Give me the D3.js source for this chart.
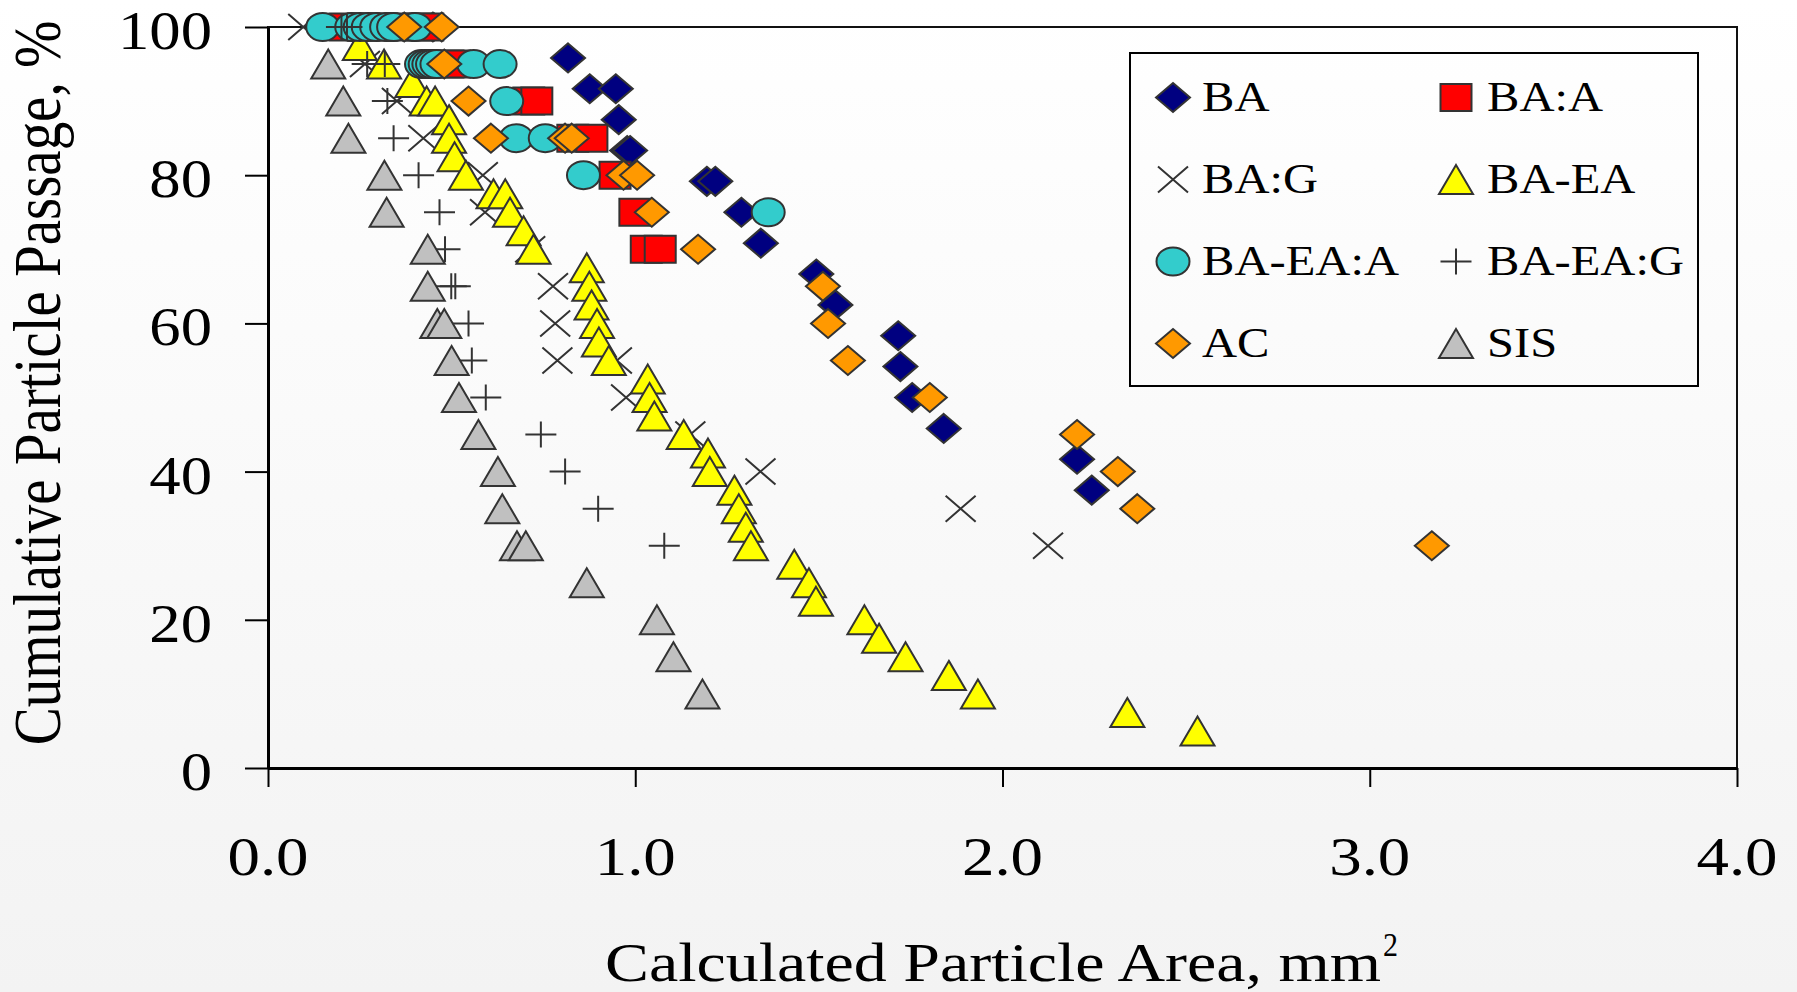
<!DOCTYPE html>
<html><head><meta charset="utf-8">
<script src="https://cdn.jsdelivr.net/npm/d3@7"></script>
<style>body{margin:0;background:#fff}svg{display:block}</style>
</head><body>
<svg id="c" width="1797" height="992"></svg>
<script>
// ---------- data ----------
const xTicks = [0, 1, 2, 3, 4];
const xTickLabels = ["0.0", "1.0", "2.0", "3.0", "4.0"];
const yTicks = [0, 20, 40, 60, 80, 100];
const xTitle = "Calculated Particle Area, mm";
const yTitle = "Cumulative Particle Passage, %";

const BA = [[0.449,100],[0.817,95.83],[0.876,91.67],[0.947,91.67],[0.955,87.5],[0.978,83.33],[0.986,83.33],[1.195,79.17],[1.218,79.17],[1.289,75],[1.342,70.83],[1.493,66.67],[1.545,62.5],[1.716,58.33],[1.722,54.17],[1.754,50],[1.840,45.83],[2.203,41.67],[2.243,37.5]];
const BA_A = [[0.21,100],[0.26,100],[0.31,100],[0.36,100],[0.41,100],[0.435,100],[0.49,95],[0.508,95],[0.71,90],[0.732,90],[0.83,85],[0.882,85],[0.945,80],[0.999,75],[1.03,70],[1.068,70]];
const BA_G = [[0.096,100],[0.264,95],[0.351,90],[0.423,85],[0.585,80],[0.591,75],[0.714,70],[0.776,65],[0.782,60],[0.788,55],[0.95,55],[0.975,50],[1.15,45],[1.341,40],[1.886,35],[2.124,30]];
const BA_EA = [[0.25,97.5],[0.316,95],[0.393,92.5],[0.432,90],[0.455,90],[0.493,87.5],[0.493,85],[0.508,82.5],[0.539,80],[0.614,77.5],[0.646,77.5],[0.659,75],[0.696,72.5],[0.723,70],[0.868,67.5],[0.875,65],[0.881,62.5],[0.896,60],[0.901,57.5],[0.928,55],[1.034,52.5],[1.039,50],[1.052,47.5],[1.132,45],[1.198,42.5],[1.203,40],[1.270,37.5],[1.282,35],[1.301,32.5],[1.315,30],[1.433,27.5],[1.473,25],[1.492,22.5],[1.624,20],[1.664,17.5],[1.736,15],[1.854,12.5],[1.933,10],[2.340,7.5],[2.531,5]];
const BA_EA_A = [[0.149,100],[0.228,100],[0.251,100],[0.273,100],[0.296,100],[0.323,100],[0.342,100],[0.40,100],[0.418,95],[0.428,95],[0.438,95],[0.448,95],[0.46,95],[0.56,95],[0.632,95],[0.650,90],[0.676,85],[0.755,85],[0.859,80],[1.362,75]];
const BA_EA_G = [[0.2,100],[0.215,100],[0.27,95],[0.318,95],[0.325,90],[0.342,85],[0.41,80],[0.467,75],[0.482,70],[0.499,65],[0.51,65],[0.546,60],[0.555,55],[0.593,50],[0.743,45],[0.809,40],[0.899,35],[1.079,30]];
const AC = [[0.371,100],[0.473,100],[0.48,95],[0.546,90],[0.607,85],[0.809,85],[0.827,85],[0.968,80],[1.005,80],[1.045,75],[1.171,70],[1.511,65],[1.525,60],[1.579,55],[1.802,50],[2.203,45],[2.314,40],[2.367,35],[3.169,30]];
const SIS = [[0.164,95],[0.205,90],[0.219,85],[0.317,80],[0.323,75],[0.435,70],[0.435,65],[0.461,60],[0.480,60],[0.500,55],[0.520,50],[0.573,45],[0.626,40],[0.638,35],[0.678,30],[0.702,30],[0.868,25],[1.059,20],[1.104,15],[1.183,10]];

const seriesNames = ["BA","BA:A","BA:G","BA-EA","BA-EA:A","BA-EA:G","AC","SIS"];
const seriesData = [BA, BA_A, BA_G, BA_EA, BA_EA_A, BA_EA_G, AC, SIS];
const seriesShapes = ["diamond","square","x","triangle","circle","plus","diamond","triangle"];
const seriesFills = ["#000080","#ff0000","none","#ffff00","#33cccc","none","#ff9900","#c0c0c0"];

// ---------- layout ----------
const W = 1797, H = 992;
const L = 268, R = 1737, T = 27, B = 768;
const svg = d3.select("#c");
const FONT = "'Liberation Serif','Times New Roman',serif";

const defs = svg.append("defs");
const g0 = defs.append("linearGradient").attr("id","bg").attr("x1",0).attr("y1",0).attr("x2",0).attr("y2",1);
g0.append("stop").attr("offset","0%").attr("stop-color","#ffffff");
g0.append("stop").attr("offset","100%").attr("stop-color","#f3f3f3");
svg.append("rect").attr("width",W).attr("height",H).attr("fill","url(#bg)");

const x = d3.scaleLinear().domain([0,4]).range([L,R]);
const y = d3.scaleLinear().domain([0,100]).range([B,T]);

// plot border (top/right)
svg.append("rect").attr("x",L).attr("y",T).attr("width",R-L).attr("height",B-T)
  .attr("fill","none").attr("stroke","#111").attr("stroke-width",2);

// axes
const xAxis = svg.append("g").attr("transform",`translate(0,${B})`)
  .call(d3.axisBottom(x).tickValues(xTicks).tickSize(19).tickSizeOuter(0).tickFormat(""));
const yAxis = svg.append("g").attr("transform",`translate(${L},0)`)
  .call(d3.axisLeft(y).tickValues(yTicks).tickSize(23).tickSizeOuter(0).tickFormat(""));
[xAxis,yAxis].forEach(a=>{
  a.select(".domain").attr("stroke","#000").attr("stroke-width",3);
  a.selectAll(".tick line").attr("stroke","#000").attr("stroke-width",2);
});

// tick labels
svg.append("g").selectAll("text").data(xTicks).join("text")
  .attr("transform",(d)=>`translate(${x(d)},875) scale(1.18,1)`)
  .attr("text-anchor","middle").attr("font-family",FONT).attr("font-size",55).attr("fill","#000")
  .text((d,i)=>xTickLabels[i]);
svg.append("g").selectAll("text").data(yTicks).join("text")
  .attr("transform",(d)=>`translate(212,${y(d)+22}) scale(1.14,1)`)
  .attr("text-anchor","end").attr("font-family",FONT).attr("font-size",55).attr("fill","#000")
  .text(d=>d);

// titles
svg.append("text").attr("x",605).attr("y",981).attr("font-family",FONT).attr("font-size",54)
  .attr("textLength",776).attr("lengthAdjust","spacingAndGlyphs").attr("fill","#000").text(xTitle);
svg.append("text").attr("x",1383).attr("y",956).attr("font-family",FONT).attr("font-size",34)
  .attr("textLength",15).attr("lengthAdjust","spacingAndGlyphs").attr("fill","#000").text("2");
svg.append("text").attr("transform","translate(60,383) rotate(-90) scale(1,1.19)")
  .attr("text-anchor","middle").attr("font-family",FONT).attr("font-size",57).attr("fill","#000")
  .text(yTitle);

// marker shapes
function shapePath(s){
  switch(s){
    case "diamond": return "M0,-14.5L17,0L0,14.5L-17,0Z";
    case "square": return "M-15.5,-13.5h31v27h-31Z";
    case "circle": return "M-16.5,0a16.5,14 0 1,0 33,0a16.5,14 0 1,0 -33,0Z";
    case "triangle": return "M0,-14.5L17,14.5L-17,14.5Z";
    case "x": return "M-15,-13L15,13M15,-13L-15,13";
    case "plus": return "M-15.5,0H15.5M0,-13V13";
  }
}

// series
seriesData.forEach((data,i)=>{
  svg.append("g").attr("class","series").selectAll("path").data(data).join("path")
    .attr("transform",d=>`translate(${x(d[0])},${y(d[1])})`)
    .attr("d",shapePath(seriesShapes[i]))
    .attr("fill",seriesFills[i])
    .attr("stroke","#333").attr("stroke-width",2).attr("stroke-linejoin","miter");
});

// legend
const lg = svg.append("g");
lg.append("rect").attr("x",1130).attr("y",53).attr("width",568).attr("height",333)
  .attr("fill","none").attr("stroke","#000").attr("stroke-width",2);
const colX = [1173, 1456], textX = [1202, 1487];
seriesNames.forEach((n,i)=>{
  const c = i%2, r = Math.floor(i/2);
  const cy = 97.5 + r*82;
  lg.append("path").attr("transform",`translate(${colX[c]},${cy})`)
    .attr("d",shapePath(seriesShapes[i])).attr("fill",seriesFills[i])
    .attr("stroke","#333").attr("stroke-width",2);
  lg.append("text").attr("transform",`translate(${textX[c]},${cy+13.5}) scale(1.13,1)`)
    .attr("font-family",FONT).attr("font-size",43).attr("fill","#000").text(n);
});
</script>
</body></html>
